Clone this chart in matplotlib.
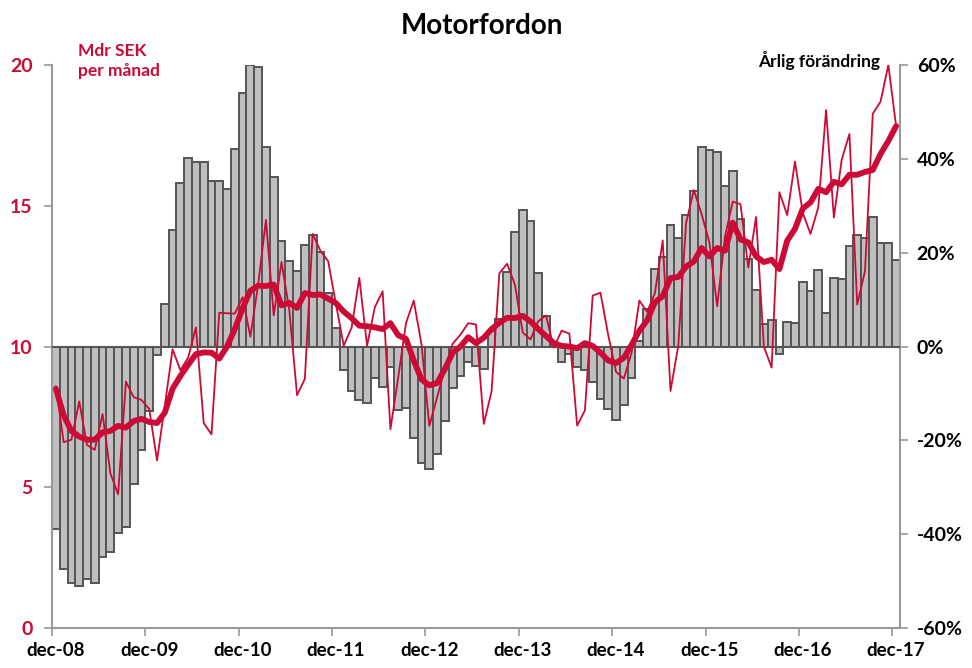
import matplotlib.pyplot as plt
import numpy as np

# manader dec-08 .. dec-17
x_labels = ['dec-08', 'dec-09', 'dec-10', 'dec-11', 'dec-12',
            'dec-13', 'dec-14', 'dec-15', 'dec-16', 'dec-17']

# arlig forandring (%), staplar
arlig = [-39.0, -47.5, -50.4, -51.1, -49.5, -50.4, -44.9, -43.9, -39.7, -38.4,
         -29.3, -22.1, -13.7, -1.9, 9.1, 24.8, 34.9, 40.1, 39.4, 39.4,
         35.2, 35.2, 33.6, 42.0, 54.1, 60.0, 59.6, 42.6, 36.1, 22.4,
         18.3, 16.1, 21.6, 23.8, 20.2, 11.4, 3.9, -5.1, -9.4, -11.4,
         -12.1, -6.7, -8.6, -4.3, -13.5, -13.1, -19.6, -24.9, -26.1, -22.9,
         -15.9, -8.8, -6.2, -3.3, -4.2, -4.9, 3.2, 5.8, 15.9, 24.4,
         29.0, 26.7, 15.7, 6.6, 0.3, -3.3, -1.5, -4.3, -5.1, -7.5,
         -11.1, -13.4, -15.7, -12.4, -6.8, 1.2, 7.9, 16.6, 19.0, 26.0,
         23.2, 28.0, 33.2, 42.6, 41.8, 41.4, 34.3, 37.5, 27.1, 18.6,
         12.1, 4.7, 5.6, -1.6, 5.3, 5.0, 13.7, 11.8, 16.2, 7.2,
         14.7, 14.4, 21.5, 23.8, 23.2, 27.7, 22.1, 22.1, 18.5]

# Mdr SEK per manad, tunn linje
manad = [8.58, 6.6, 6.69, 8.05, 6.5, 6.33, 7.6, 5.5, 4.75, 8.75,
         8.2, 8.1, 7.78, 5.95, 7.9, 9.9, 9.16, 9.6, 10.68, 7.28,
         6.88, 11.2, 11.18, 11.17, 11.75, 10.35, 12.2, 14.5, 11.1, 13.0,
         11.3, 8.27, 8.85, 14.0, 13.4, 13.03, 11.5, 10.03, 10.66, 12.44,
         10.03, 11.4, 11.96, 7.06, 8.9, 10.83, 11.63, 10.07, 7.18, 8.2,
         9.2, 10.1, 10.42, 10.83, 10.78, 7.25, 8.4, 12.6, 12.94, 12.2,
         10.5, 10.25, 10.9, 11.1, 9.96, 10.56, 10.46, 7.19, 7.73, 11.81,
         11.91, 10.4, 9.1, 8.86, 9.78, 11.63, 11.23, 11.9, 13.77, 8.42,
         10.03, 14.38, 15.56, 14.7, 13.7, 11.43, 13.9, 15.15, 15.05, 12.8,
         14.6, 10.0, 9.25, 15.48, 14.67, 16.57, 14.75, 14.0, 14.95, 18.4,
         14.58, 16.63, 17.55, 11.49, 12.68, 18.27, 18.7, 20.0, 17.83]

# trend, tjock linje
trend = [8.5, 7.55, 7.0, 6.8, 6.69, 6.69, 6.95, 7.0, 7.18, 7.12,
         7.35, 7.43, 7.32, 7.28, 7.65, 8.5, 8.95, 9.35, 9.73, 9.79,
         9.78, 9.57, 10.0, 10.62, 11.36, 11.98, 12.16, 12.15, 12.2, 11.46,
         11.55, 11.37, 11.9, 11.83, 11.85, 11.7, 11.54, 11.24, 11.01, 10.74,
         10.72, 10.68, 10.62, 10.83, 10.4, 10.27, 9.5, 8.83, 8.62, 8.7,
         9.2, 9.78, 10.0, 10.33, 10.12, 10.31, 10.62, 10.84, 11.02, 11.01,
         11.09, 10.89, 10.62, 10.37, 10.12, 10.02, 10.0, 9.94, 10.12, 10.02,
         9.78, 9.5, 9.41, 9.6, 10.06, 10.56, 10.93, 11.57, 11.79, 12.43,
         12.47, 12.84, 13.02, 13.5, 13.2, 13.5, 13.4, 14.4, 13.8, 13.7,
         13.2, 13.0, 13.08, 12.75, 13.76, 14.18, 14.9, 15.12, 15.6, 15.48,
         15.85, 15.76, 16.1, 16.1, 16.2, 16.27, 16.84, 17.3, 17.83]

red = '#CC0A35'
plt.rcParams['font.family'] = ['Lato', 'DejaVu Sans']
plt.rcParams['font.weight'] = 'bold'

x = np.arange(len(arlig))

fig = plt.figure(figsize=(9.72, 6.68), dpi=100)
ax = fig.add_axes([52 / 972, 1 - 628 / 668, 848 / 972, 563 / 668])
ax2 = ax.twinx()

# staplar pa procentaxeln (hoger)
ax.bar(x, arlig, width=1.0, color='#BFBFBF', edgecolor='#555555', linewidth=1.4, zorder=2)
ax.axhline(0, color='#555555', linewidth=1.5, zorder=3)
ax.set_ylim(-60, 60)
ax.set_yticks(np.arange(-60, 61, 20))
ax.set_yticklabels(['%d%%' % v for v in range(-60, 61, 20)])
ax.yaxis.tick_right()
ax.tick_params(axis='y', direction='out', length=6, width=1.2, color='#999999',
               labelsize=14, labelcolor='black', pad=6)

# x-axel
ax.set_xlim(-0.5, len(arlig) - 0.5)
ax.set_xticks(np.arange(0, len(arlig), 12))
ax.set_xticklabels(x_labels)
ax.set_xticks(np.arange(0, len(arlig), 12) - 0.5, minor=True)
ax.tick_params(axis='x', which='major', length=0, labelsize=13.5, pad=10)
ax.tick_params(axis='x', which='minor', direction='out', length=6, width=1.2, color='#999999')

ax.spines['top'].set_visible(False)
for s in ['left', 'right', 'bottom']:
    ax.spines[s].set_color('#999999')
    ax.spines[s].set_linewidth(1.5)

# linjer pa vanster axel
ax2.plot(x, manad, color=red, linewidth=1.3, zorder=4)
ax2.plot(x, trend, color=red, linewidth=4.2, zorder=5, solid_capstyle='round')
ax2.set_ylim(0, 20)
ax2.set_yticks([0, 5, 10, 15, 20])
ax2.yaxis.tick_left()
ax2.tick_params(axis='y', direction='out', length=6, width=1.2, color='#999999',
                labelsize=14, labelcolor=red, pad=8)
for s in ax2.spines.values():
    s.set_visible(False)

fig.text(482 / 972, 1 - 26 / 668, 'Motorfordon', ha='center', va='center',
         fontsize=20, fontweight='bold', color='black')
fig.text(78 / 972, 1 - 61 / 668, 'Mdr SEK\nper månad', ha='left', va='center',
         fontsize=12.5, fontweight='bold', color=red, linespacing=1.3)
fig.text(880 / 972, 1 - 60 / 668, 'Årlig förändring', ha='right', va='center',
         fontsize=12.5, fontweight='bold', color='black')

fig.savefig('out.png', dpi=100)
